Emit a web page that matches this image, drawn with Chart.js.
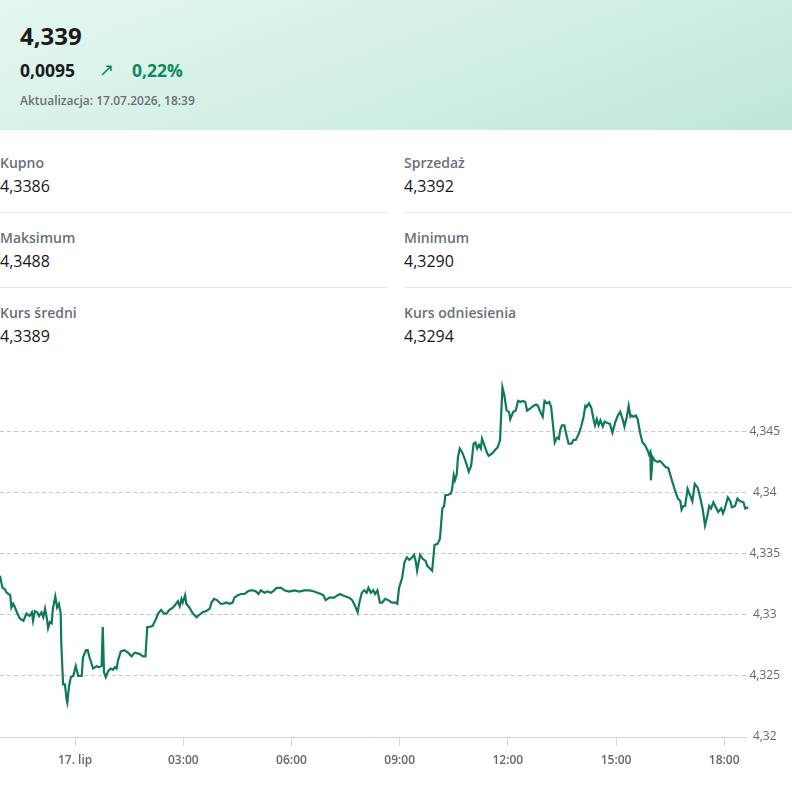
<!DOCTYPE html>
<html lang="pl">
<head>
<meta charset="utf-8">
<title>Kurs 4,339</title>
<script src="https://cdn.jsdelivr.net/npm/chart.js@4/dist/chart.umd.min.js"></script>
<style>
  html, body { margin: 0; padding: 0; background: #fff; }
  body { width: 792px; height: 790px; position: relative; overflow: hidden; font-family: "Open Sans", "Noto Sans", sans-serif; }
  .naglowek { position: absolute; left: 0; top: 0; width: 792px; height: 130px;
    background: linear-gradient(160deg, #e4f7f1 0%, #d3f0e5 50%, #c0e6d6 100%); }
  .naglowek div { position: absolute; white-space: nowrap; }
  .kurs { left: 20px; top: 24px; font-size: 24px; line-height: 24px; font-weight: 700; color: #1b1b1b; }
  .zmiana { left: 20px; top: 62px; font-size: 17.5px; line-height: 17.5px; font-weight: 700; color: #1b1b1b; }
  .strzalka { left: 99px; top: 61px; font-size: 18px; line-height: 18px; color: #10895b; font-family: "DejaVu Sans", sans-serif; }
  .procent { left: 132px; top: 62px; font-size: 17.5px; line-height: 17.5px; font-weight: 700; color: #10895b; }
  .aktualizacja { left: 20px; top: 95px; font-size: 12px; line-height: 12px; font-weight: 600; color: #6b7075; }
  .tabela { position: absolute; left: 0; top: 138px; width: 792px; display: grid;
    grid-template-columns: 388px 388px; column-gap: 16px; }
  .komorka { height: 59px; padding-top: 15px; border-bottom: 1px solid #e6e8eb; }
  .komorka.ostatni { border-bottom: none; }
  .etykieta { font-size: 14px; line-height: 20px; font-weight: 600; color: #6b7079; }
  .wartosc { font-size: 16px; line-height: 22px; margin-top: 2px; color: #161618; font-weight: 500; }
  .wykres { position: absolute; left: 0; top: 365px; width: 792px; height: 425px; }
</style>
</head>
<body>
<div class="naglowek">
  <div class="kurs">4,339</div>
  <div class="zmiana">0,0095</div>
  <div class="strzalka">↗</div>
  <div class="procent">0,22%</div>
  <div class="aktualizacja">Aktualizacja: 17.07.2026, 18:39</div>
</div>

<div class="tabela">
  <div class="komorka"><div class="etykieta">Kupno</div><div class="wartosc">4,3386</div></div>
  <div class="komorka"><div class="etykieta">Sprzedaż</div><div class="wartosc">4,3392</div></div>
  <div class="komorka"><div class="etykieta">Maksimum</div><div class="wartosc">4,3488</div></div>
  <div class="komorka"><div class="etykieta">Minimum</div><div class="wartosc">4,3290</div></div>
  <div class="komorka ostatni"><div class="etykieta">Kurs średni</div><div class="wartosc">4,3389</div></div>
  <div class="komorka ostatni"><div class="etykieta">Kurs odniesienia</div><div class="wartosc">4,3294</div></div>
</div>

<div class="wykres"><canvas id="kursWykres"></canvas></div>

<script>
// Czas notowania w minutach od północy 17 lipca (ujemne = 16 lipca wieczorem)
const minuty = [
  -125, -121, -117, -114, -108, -106, -103, -100, -97, -92,
  -86, -81, -76, -72, -70, -67, -63, -60, -56, -53,
  -50, -47, -45, -42, -39, -37, -33, -30, -27, -24,
  -23, -20, -17, -14, -13, -10, -7, -3, 1, 5,
  11, 13, 18, 21, 24, 30, 36, 39, 44, 46,
  48, 51, 55, 59, 63, 66, 69, 71, 76, 82,
  88, 94, 99, 107, 113, 117, 120, 124, 129, 135,
  138, 143, 148, 152, 157, 163, 168, 171, 174, 177,
  179, 183, 185, 190, 196, 202, 207, 212, 218, 224,
  227, 231, 236, 242, 247, 251, 257, 262, 265, 271,
  276, 282, 287, 292, 295, 301, 305, 309, 315, 320,
  326, 331, 335, 343, 348, 356, 365, 373, 381, 390,
  398, 403, 409, 413, 417, 423, 431, 437, 441, 445,
  450, 456, 461, 466, 470, 473, 477, 481, 485, 488,
  492, 496, 499, 503, 507, 511, 516, 521, 527, 533,
  536, 539, 544, 548, 552, 556, 559, 564, 567, 569,
  574, 578, 583, 586, 592, 594, 598, 603, 607, 611,
  614, 616, 620, 625, 627, 630, 632, 635, 637, 640,
  644, 650, 655, 659, 663, 666, 669, 672, 675, 677,
  680, 685, 688, 694, 699, 703, 707, 709, 711, 714,
  718, 722, 724, 729, 733, 737, 741, 745, 749, 752,
  758, 763, 767, 770, 774, 778, 781, 785, 789, 792,
  795, 798, 802, 805, 807, 810, 814, 817, 821, 826,
  829, 833, 838, 842, 846, 849, 851, 855, 859, 863,
  865, 868, 871, 874, 878, 881, 885, 890, 894, 899,
  903, 907, 911, 914, 918, 921, 924, 926, 929, 933,
  936, 940, 944, 948, 953, 955, 957, 958, 961, 965,
  969, 973, 977, 982, 987, 993, 998, 1003, 1007, 1009,
  1012, 1015, 1019, 1023, 1027, 1031, 1036, 1040, 1044, 1048,
  1052, 1055, 1058, 1062, 1066, 1070, 1075, 1078, 1081, 1086,
  1090, 1093, 1098, 1102, 1106, 1112, 1115, 1120
];

const kurs = [
  4.3332, 4.3322, 4.3321, 4.3318, 4.3316, 4.3306, 4.3309, 4.3306, 4.3302, 4.3297,
  4.3295, 4.3301, 4.3299, 4.3302, 4.3295, 4.3303, 4.3302, 4.3299, 4.3302, 4.3298,
  4.3305, 4.3297, 4.3289, 4.3294, 4.3293, 4.3305, 4.3315, 4.3306, 4.3309, 4.3301,
  4.3276, 4.3243, 4.3243, 4.3230, 4.3228, 4.3242, 4.3249, 4.3250, 4.3258, 4.3250,
  4.3250, 4.3265, 4.3271, 4.3271, 4.3265, 4.3256, 4.3258, 4.3257, 4.3258, 4.3290,
  4.3253, 4.3249, 4.3254, 4.3256, 4.3255, 4.3257, 4.3256, 4.3262, 4.3270, 4.3271,
  4.3269, 4.3266, 4.3269, 4.3268, 4.3266, 4.3266, 4.3290, 4.3290, 4.3291, 4.3297,
  4.3301, 4.3304, 4.3301, 4.3301, 4.3304, 4.3306, 4.3309, 4.3311, 4.3307, 4.3313,
  4.3310, 4.3316, 4.3309, 4.3306, 4.3301, 4.3298, 4.3300, 4.3302, 4.3303, 4.3305,
  4.3310, 4.3313, 4.3312, 4.3309, 4.3309, 4.3310, 4.3309, 4.3310, 4.3314, 4.3316,
  4.3317, 4.3317, 4.3319, 4.3320, 4.3320, 4.3319, 4.3317, 4.3320, 4.3318, 4.3319,
  4.3318, 4.3320, 4.3322, 4.3322, 4.3320, 4.3319, 4.3320, 4.3319, 4.3320, 4.3320,
  4.3319, 4.3318, 4.3317, 4.3316, 4.3312, 4.3314, 4.3314, 4.3316, 4.3317, 4.3316,
  4.3315, 4.3314, 4.3312, 4.3307, 4.3302, 4.3310, 4.3318, 4.3320, 4.3318, 4.3322,
  4.3318, 4.3320, 4.3317, 4.3320, 4.3310, 4.3310, 4.3313, 4.3312, 4.3310, 4.3310,
  4.3309, 4.3322, 4.3330, 4.3343, 4.3347, 4.3345, 4.3346, 4.3349, 4.3343, 4.3336,
  4.3349, 4.3346, 4.3344, 4.3340, 4.3337, 4.3336, 4.3357, 4.3358, 4.3362, 4.3387,
  4.3389, 4.3398, 4.3398, 4.3399, 4.3402, 4.3414, 4.3410, 4.3415, 4.3429, 4.3436,
  4.3433, 4.3425, 4.3417, 4.3422, 4.3440, 4.3441, 4.3436, 4.3439, 4.3436, 4.3444,
  4.3440, 4.3433, 4.3430, 4.3432, 4.3435, 4.3437, 4.3443, 4.3465, 4.3486, 4.3480,
  4.3467, 4.3466, 4.3460, 4.3466, 4.3467, 4.3475, 4.3474, 4.3475, 4.3474, 4.3467,
  4.3469, 4.3471, 4.3472, 4.3471, 4.3466, 4.3462, 4.3475, 4.3473, 4.3474, 4.3470,
  4.3456, 4.3441, 4.3445, 4.3444, 4.3451, 4.3455, 4.3455, 4.3448, 4.3440, 4.3440,
  4.3443, 4.3443, 4.3448, 4.3454, 4.3462, 4.3471, 4.3470, 4.3473, 4.3469, 4.3459,
  4.3455, 4.3460, 4.3455, 4.3459, 4.3454, 4.3458, 4.3457, 4.3456, 4.3449, 4.3458,
  4.3463, 4.3466, 4.3460, 4.3454, 4.3462, 4.3471, 4.3462, 4.3463, 4.3462, 4.3463,
  4.3460, 4.3449, 4.3441, 4.3439, 4.3434, 4.3431, 4.3433, 4.3410, 4.3429, 4.3426,
  4.3425, 4.3426, 4.3424, 4.3421, 4.3420, 4.3410, 4.3402, 4.3395, 4.3393, 4.3386,
  4.3389, 4.3389, 4.3403, 4.3398, 4.3393, 4.3407, 4.3404, 4.3396, 4.3387, 4.3373,
  4.3381, 4.3389, 4.3387, 4.3392, 4.3388, 4.3384, 4.3387, 4.3383, 4.3387, 4.3396,
  4.3393, 4.3388, 4.3389, 4.3395, 4.3393, 4.3392, 4.3387, 4.3388
];

// Podziałki osi: godziny (w minutach) i kursy
const godzinyOsi = [0, 180, 360, 540, 720, 900, 1080];
const kursyOsi = [4.32, 4.325, 4.33, 4.335, 4.34, 4.345];
const zakresX = [-125, 1117];
const zakresY = [4.32, 4.3496];

function etykietaCzasu(v) {
  if (v === 0) return "17. lip";
  const h = Math.floor(v / 60);
  return String(h).padStart(2, "0") + ":00";
}

const punkty = minuty.map(function (m, i) {
  return { x: m, y: kurs[i] };
});

new Chart(document.getElementById("kursWykres").getContext("2d"), {
  type: "line",
  data: {
    datasets: [
      {
        data: punkty,
        borderColor: "#107a55",
        borderWidth: 2.2,
        pointRadius: 0,
        tension: 0,
        fill: false,
        clip: 4,
      },
    ],
  },
  options: {
    responsive: true,
    maintainAspectRatio: false,
    animation: false,
    layout: { padding: { top: 0, right: 9, left: 0, bottom: 15.6 } },
    plugins: { legend: { display: false }, tooltip: { enabled: false } },
    scales: {
      x: {
        type: "linear",
        bounds: "data",
        min: zakresX[0],
        max: zakresX[1],
        afterBuildTicks: function (axis) {
          axis.ticks = godzinyOsi.map(function (v) { return { value: v }; });
        },
        grid: { drawOnChartArea: false, color: "#ccd6eb", tickLength: 9 },
        border: { color: "#ccd6eb" },
        ticks: {
          autoSkip: false,
          maxRotation: 0,
          padding: 7,
          color: "#666666",
          font: { family: "Open Sans", size: 12, weight: 600 },
          callback: etykietaCzasu,
        },
      },
      y: {
        position: "right",
        bounds: "data",
        min: zakresY[0],
        max: zakresY[1],
        afterBuildTicks: function (axis) {
          axis.ticks = kursyOsi.map(function (v) { return { value: v }; });
        },
        border: { display: false, dash: [4, 3] },
        grid: {
          drawTicks: false,
          color: function (ctx) {
            return ctx.index === 0 ? "rgba(0,0,0,0)" : "#c8c8c8";
          },
        },
        ticks: {
          padding: 3,
          crossAlign: "center",
          color: "#666666",
          font: { family: "Open Sans", size: 12 },
          callback: function (v) {
            return String(Number(v.toFixed(3))).replace(".", ",");
          },
        },
      },
    },
  },
});
</script>
</body>
</html>
